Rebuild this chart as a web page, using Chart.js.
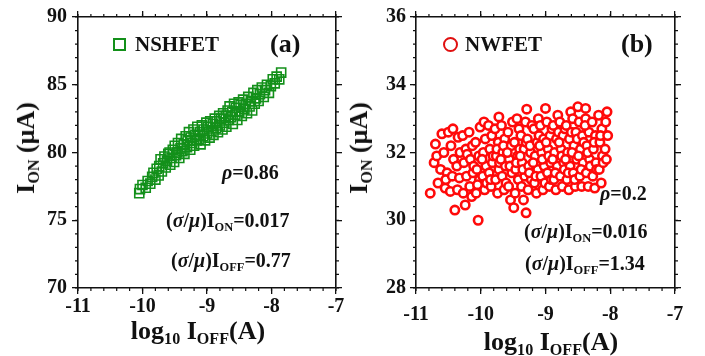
<!DOCTYPE html>
<html>
<head>
<meta charset="utf-8">
<script src="https://cdn.jsdelivr.net/npm/chart.js@4.4.0/dist/chart.umd.min.js"></script>
<style>
  html, body { margin: 0; padding: 0; background: #fff; }
  #wrap { position: relative; width: 705px; height: 356px; overflow: hidden; }
  .panel { position: absolute; top: 0; }
  .t { position: absolute; font-family: "Liberation Serif", serif; font-weight: bold;
       white-space: nowrap; line-height: 1; color: #111; }
  .t sub { font-size: 0.62em; vertical-align: -0.32em; line-height: 0; }
  .c { transform: translate(-50%, -50%); }
  .rot { transform: translate(-50%, -50%) rotate(-90deg); }
  .mk { position: absolute; box-sizing: border-box; }
  #drawn { position: absolute; left: 2px; top: 340px; font: 10px monospace; color: #fff; }
</style>
</head>
<body>
<div id="wrap">
  <div class="panel" style="left:0"><canvas id="chartA" width="352" height="356"></canvas></div>
  <div class="panel" style="left:352px"><canvas id="chartB" width="353" height="356"></canvas></div>

  <!-- panel (a) texts -->
  <div class="mk" style="left:113px;top:38px;width:13px;height:13px;border:2px solid #13901a"></div>
  <div class="t" style="left:135px;top:34px;font-size:21px">NSHFET</div>
  <div class="t" style="left:270px;top:31px;font-size:26px">(a)</div>
  <div class="t" style="left:222px;top:162px;font-size:20px"><i>ρ</i>=0.86</div>
  <div class="t" style="left:166px;top:210px;font-size:20px">(<i>σ</i>/<i>μ</i>)I<sub>ON</sub>=0.017</div>
  <div class="t" style="left:171px;top:250px;font-size:20px">(<i>σ</i>/<i>μ</i>)I<sub>OFF</sub>=0.77</div>
  <div class="t rot" style="left:26px;top:148px;font-size:26px">I<sub>ON</sub> (μA)</div>
  <div class="t c" style="left:198px;top:331px;font-size:26px">log<sub>10</sub> I<sub>OFF</sub>(A)</div>

  <!-- panel (b) texts -->
  <div class="mk" style="left:443px;top:37px;width:15px;height:15px;border:2.5px solid #e01010;border-radius:50%"></div>
  <div class="t" style="left:465px;top:34px;font-size:21px">NWFET</div>
  <div class="t" style="left:621px;top:31px;font-size:26px">(b)</div>
  <div class="t" style="left:600px;top:183px;font-size:20px"><i>ρ</i>=0.2</div>
  <div class="t" style="left:524px;top:221px;font-size:20px">(<i>σ</i>/<i>μ</i>)I<sub>ON</sub>=0.016</div>
  <div class="t" style="left:525px;top:253px;font-size:20px">(<i>σ</i>/<i>μ</i>)I<sub>OFF</sub>=1.34</div>
  <div class="t rot" style="left:359px;top:148px;font-size:26px">I<sub>ON</sub> (μA)</div>
  <div class="t c" style="left:551px;top:342px;font-size:26px">log<sub>10</sub> I<sub>OFF</sub>(A)</div>
  <div id="drawn"></div>
</div>

<script>
// axis ranges / ticks
const xTicks = [-11, -10, -9, -8, -7];
const yTicksA = [70, 75, 80, 85, 90];
const yTicksB = [28, 30, 32, 34, 36];

// (a) NSHFET: log10 Ioff and Ion (uA)
const nshOff = [
  -10.05,-10.04,-10.00,-9.95,-9.92,-9.88,-9.85,-9.83,-9.80,-9.78,
  -9.75,-9.74,-9.72,-9.70,-9.68,-9.66,-9.64,-9.62,-9.60,-9.58,
  -9.57,-9.55,-9.53,-9.51,-9.50,-9.48,-9.46,-9.45,-9.43,-9.41,
  -9.40,-9.38,-9.36,-9.35,-9.33,-9.31,-9.30,-9.28,-9.26,-9.25,
  -9.23,-9.21,-9.20,-9.18,-9.16,-9.15,-9.13,-9.11,-9.10,-9.08,
  -9.06,-9.05,-9.03,-9.01,-9.00,-8.98,-8.96,-8.95,-8.93,-8.91,
  -8.90,-8.88,-8.86,-8.85,-8.83,-8.81,-8.80,-8.78,-8.76,-8.75,
  -8.73,-8.71,-8.70,-8.68,-8.66,-8.65,-8.63,-8.61,-8.60,-8.58,
  -8.56,-8.55,-8.53,-8.51,-8.50,-8.48,-8.46,-8.44,-8.42,-8.40,
  -8.38,-8.36,-8.34,-8.32,-8.30,-8.28,-8.26,-8.24,-8.22,-8.20,
  -8.18,-8.15,-8.12,-8.10,-8.07,-8.04,-8.01,-7.98,-7.95,-7.92,
  -7.88,-7.85
];
const nshOn = [
  77.0,77.3,77.6,77.4,77.9,77.7,78.2,78.5,78.0,78.8,
  78.3,79.0,79.5,78.6,79.2,79.7,78.9,79.4,79.9,80.0,
  79.1,79.6,80.2,79.3,80.5,79.8,80.0,80.7,79.6,80.3,
  81.0,80.1,80.6,79.9,81.2,80.4,80.9,81.5,80.2,81.1,
  80.7,81.7,80.5,81.3,80.9,81.9,81.0,81.5,80.6,82.0,
  81.2,81.7,80.9,82.2,81.4,81.9,81.1,82.3,81.6,82.1,
  81.3,82.5,81.8,82.3,81.5,82.7,82.0,82.5,81.7,82.9,
  82.2,82.7,81.9,83.1,82.4,83.4,82.6,83.0,82.1,83.6,
  82.8,83.3,82.4,83.7,83.0,83.5,82.7,83.9,83.2,83.6,
  82.9,84.1,83.4,83.8,83.1,84.4,83.6,84.0,84.6,83.8,
  84.3,84.8,84.1,84.6,85.0,84.4,84.9,85.4,85.1,85.6,
  85.4,85.9
];

// (b) NWFET: log10 Ioff and Ion (uA), one line per little column of the cloud
const nwOff = [
  -10.78,-10.72,-10.70,
  -10.66,-10.62,-10.68,-10.60,
  -10.55,-10.52,-10.57,-10.50,-10.54,
  -10.47,-10.44,-10.42,-10.46,-10.43,
  -10.40,-10.36,-10.33,-10.37,-10.32,-10.35,
  -10.24,-10.27,-10.22,-10.26,-10.23,-10.28,-10.21,
  -10.14,-10.17,-10.12,-10.16,-10.13,-10.18,-10.11,
  -10.04,-10.07,-10.02,-10.06,-10.03,-10.08,-10.01,-10.05,
  -9.94,-9.97,-9.92,-9.96,-9.93,-9.95,-9.98,-9.91,
  -9.84,-9.87,-9.82,-9.86,-9.83,-9.88,-9.81,-9.85,
  -9.74,-9.77,-9.72,-9.76,-9.73,-9.78,-9.72,-9.71,-9.75,
  -9.64,-9.67,-9.62,-9.66,-9.63,-9.68,-9.61,-9.65,-9.69,
  -9.54,-9.57,-9.52,-9.56,-9.53,-9.58,-9.51,-9.55,-9.59,
  -9.49,-9.47,-9.42,-9.46,-9.43,-9.48,-9.41,-9.44,-9.45,-9.40,
  -9.34,-9.37,-9.32,-9.36,-9.33,-9.38,-9.31,-9.35,-9.39,-9.30,
  -9.30,-9.27,-9.22,-9.26,-9.23,-9.28,-9.21,-9.29,-9.25,-9.24,
  -9.14,-9.17,-9.12,-9.16,-9.13,-9.18,-9.11,-9.15,-9.19,-9.10,
  -9.04,-9.07,-9.02,-9.06,-9.03,-9.08,-9.00,-9.05,-9.09,-9.01,
  -8.94,-8.97,-8.92,-8.96,-8.93,-8.98,-8.91,-8.95,-8.99,-8.90,
  -8.84,-8.87,-8.82,-8.86,-8.83,-8.88,-8.81,-8.85,-8.89,-8.80,
  -8.74,-8.77,-8.72,-8.76,-8.73,-8.78,-8.71,-8.75,-8.79,-8.70,
  -8.64,-8.67,-8.62,-8.66,-8.63,-8.68,-8.61,-8.65,-8.69,-8.60,
  -8.54,-8.57,-8.52,-8.56,-8.53,-8.58,-8.50,-8.55,-8.59,-8.51,
  -8.44,-8.47,-8.42,-8.46,-8.43,-8.48,-8.38,-8.45,-8.49,-8.41,
  -8.34,-8.37,-8.32,-8.36,-8.33,-8.38,-8.31,-8.35,-8.39,
  -8.24,-8.27,-8.22,-8.26,-8.23,-8.28,-8.21,-8.25,
  -8.14,-8.17,-8.12,-8.16,-8.13,-8.18,-8.11,-8.15,
  -8.06,-8.08,-8.04,-8.07,-8.05
];
const nwOn = [
  30.8,31.7,32.25,
  31.1,31.5,31.9,32.55,
  30.95,31.4,32.0,32.6,31.2,
  30.85,31.3,31.8,32.2,32.7,
  30.3,30.9,31.25,31.6,32.0,32.45,
  30.45,30.8,31.3,31.7,32.1,32.5,31.95,
  30.7,31.0,31.4,31.8,32.2,32.6,31.6,
  30.0,30.8,31.2,31.5,31.9,32.3,32.75,31.05,
  30.9,31.3,31.6,32.0,32.4,32.9,31.8,31.1,
  31.0,31.4,31.7,32.1,32.5,32.8,31.9,31.2,
  30.8,31.2,31.5,31.9,32.3,32.7,33.05,31.7,32.1,
  30.9,31.3,31.6,32.0,32.4,32.8,31.1,32.2,31.8,
  30.6,31.0,31.4,31.8,32.2,32.6,32.9,31.6,32.0,
  30.37,30.8,31.2,31.5,31.9,32.3,32.7,33.0,31.7,32.1,
  30.6,31.0,31.3,31.7,32.1,32.5,32.9,31.5,31.9,32.3,
  30.22,30.9,31.2,31.6,32.0,32.4,32.8,33.28,31.4,32.2,
  30.8,31.1,31.5,31.9,32.3,32.7,33.0,31.3,31.7,32.5,
  30.9,31.3,31.6,32.0,32.4,32.8,33.3,31.8,32.2,31.1,
  31.0,31.4,31.7,32.1,32.5,32.9,31.2,31.9,32.3,32.7,
  30.9,31.2,31.6,32.0,32.4,32.8,33.1,31.4,31.8,32.6,
  31.0,31.3,31.7,32.1,32.5,32.9,31.5,31.9,32.3,32.7,
  30.9,31.2,31.6,32.0,32.4,32.8,33.2,31.4,31.8,32.6,
  31.0,31.4,31.8,32.2,32.6,33.0,33.35,31.2,32.0,32.4,
  31.0,31.3,31.7,32.1,32.5,32.9,33.3,31.5,31.9,32.3,
  31.0,31.4,31.8,32.2,32.6,33.0,31.6,32.0,32.8,
  30.95,31.3,31.7,32.1,32.5,32.9,31.5,32.3,
  31.1,31.5,31.9,32.3,32.7,33.1,31.7,32.5,
  31.8,32.1,32.5,32.9,33.2
];

const tickFont = { family: "'Liberation Serif', serif", weight: "bold", size: 20 };
const ink = "#111";
const majorGrid = { display: true, drawOnChartArea: false, drawTicks: true, tickLength: 6, color: ink, lineWidth: 1.3 };
const frameBorder = { display: true, color: ink, width: 1.6 };

// minor ticks on all four sides, placed through the chart scales
function minorTicks(o) {
  return {
    id: "minorTicks",
    afterDraw(chart) {
      // touch the DOM after drawing so the page repaints with the finished canvas
      document.getElementById("drawn").textContent += "m";
      const ctx = chart.ctx;
      const a = chart.chartArea;
      const x = chart.scales.x, y = chart.scales.y;
      ctx.save();
      ctx.strokeStyle = ink;
      ctx.lineWidth = 1.2;
      ctx.beginPath();
      let n = Math.round((x.max - x.min) / o.xMinor);
      for (let i = 0; i <= n; i++) {
        const px = x.getPixelForValue(x.min + i * o.xMinor);
        ctx.moveTo(px, a.bottom); ctx.lineTo(px, a.bottom + 3);
        ctx.moveTo(px, a.top); ctx.lineTo(px, a.top - 3);
      }
      n = Math.round((y.max - y.min) / o.yMinor);
      for (let i = 0; i <= n; i++) {
        const py = y.getPixelForValue(y.min + i * o.yMinor);
        ctx.moveTo(a.left, py); ctx.lineTo(a.left - 3, py);
        ctx.moveTo(a.right, py); ctx.lineTo(a.right + 3, py);
      }
      ctx.stroke();
      ctx.restore();
    }
  };
}

function makeChart(id, xs, ys, ds, yTicks, pad, axisW, xPad, yPad, tickOpts) {
  const ds0 = Object.assign({ data: xs.map((v, i) => ({ x: v, y: ys[i] })), xAxisID: "x", yAxisID: "y" }, ds);
  const xMin = xTicks[0], xMax = xTicks[xTicks.length - 1];
  const yMin = yTicks[0], yMax = yTicks[yTicks.length - 1], yStep = yTicks[1] - yTicks[0];
  return new Chart(document.getElementById(id), {
    type: "scatter",
    data: { datasets: [ds0] },
    options: {
      responsive: false,
      animation: false,
      layout: { padding: pad },
      plugins: { legend: { display: false }, tooltip: { enabled: false } },
      scales: {
        x: {
          type: "linear", position: "bottom", min: xMin, max: xMax,
          grid: majorGrid, border: frameBorder,
          ticks: { stepSize: 1, font: tickFont, color: ink, padding: xPad, maxRotation: 0 },
          afterFit: s => { s.height = 68; }
        },
        y: {
          type: "linear", position: "left", min: yMin, max: yMax,
          grid: majorGrid, border: frameBorder,
          ticks: { stepSize: yStep, font: tickFont, color: ink, padding: yPad },
          afterFit: s => { s.width = axisW; }
        },
        x2: {
          type: "linear", position: "top", min: xMin, max: xMax,
          grid: majorGrid, border: frameBorder,
          ticks: { stepSize: 1, display: false },
          afterFit: s => { s.height = 6; }
        },
        y2: {
          type: "linear", position: "right", min: yMin, max: yMax,
          grid: majorGrid, border: frameBorder,
          ticks: { stepSize: yStep, display: false },
          afterFit: s => { s.width = 6; }
        }
      }
    },
    plugins: [minorTicks(tickOpts)]
  });
}

makeChart("chartA", nshOff, nshOn,
  { pointStyle: "rect", pointRadius: 6.4, borderColor: "#13901a", backgroundColor: "rgba(0,0,0,0)", borderWidth: 1.6 },
  yTicksA, { top: 11, right: 10, left: 0, bottom: 0 }, 78, 1, 5,
  { xMinor: 0.2, yMinor: 1 });

makeChart("chartB", nwOff, nwOn,
  { pointStyle: "circle", pointRadius: 4.2, borderColor: "#ff0a0a", backgroundColor: "#ffffff", borderWidth: 2.6 },
  yTicksB, { top: 11, right: 24, left: 0, bottom: 0 }, 64, 9, 4,
  { xMinor: 0.2, yMinor: 0.4 });
</script>
</body>
</html>
